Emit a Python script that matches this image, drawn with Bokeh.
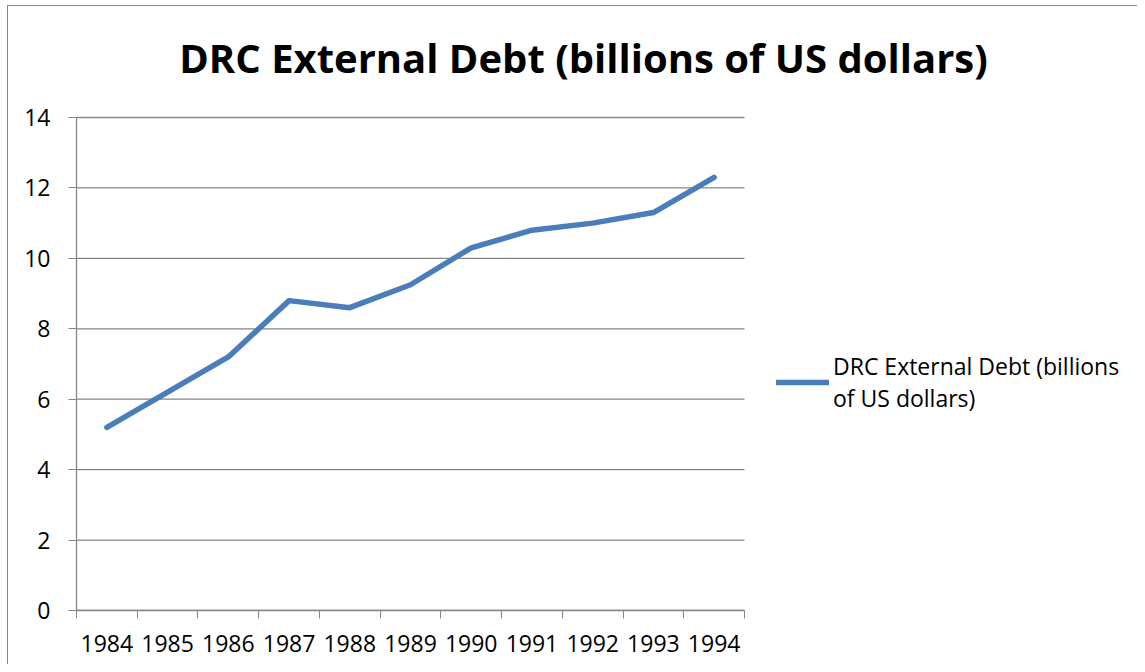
from bokeh.plotting import figure
from bokeh.models import (ColumnDataSource, FixedTicker, Label, Legend, LegendItem, Range1d)
from bokeh.embed import file_html
from bokeh.resources import INLINE

years = ["1984", "1985", "1986", "1987", "1988", "1989", "1990", "1991", "1992", "1993", "1994"]
debt = [5.2, 6.2, 7.2, 8.8, 8.6, 9.25, 10.3, 10.8, 11.0, 11.3, 12.3]
y_ticks = [0, 2, 4, 6, 8, 10, 12, 14]
title_text = "DRC External Debt (billions of US dollars)"
series_name = "DRC External Debt (billions\nof US dollars)"

xs = [i + 0.5 for i in range(len(years))]
src = ColumnDataSource(dict(x=xs, y=debt))

FONT = "Open Sans"
GRAY = "#868686"

# plot area: 668 x 493 px for 0..11 x 0..14; frame extended to hold title and legend
N = len(years)
Y_MAX = 14
FRAME_W = 1061
FRAME_H = 604
x_end = N * FRAME_W / 668
y_top = Y_MAX * FRAME_H / 493

p = figure(frame_width=FRAME_W, frame_height=FRAME_H, output_backend="svg", toolbar_location=None,
           x_range=Range1d(0, x_end), y_range=Range1d(0, y_top),
           min_border_left=68, min_border_right=0, min_border_top=0, min_border_bottom=54,
           title=None)
p.styles = {"border-left": "1px solid #868686", "border-top": "1px solid #868686",
            "margin-left": "7px", "margin-top": "5px"}
p.outline_line_color = None
p.background_fill_color = "white"

# horizontal gridlines limited to the category span
p.segment(x0=[0] * len(y_ticks), x1=[N] * len(y_ticks), y0=y_ticks, y1=y_ticks,
          line_color=GRAY, line_width=1.3, level="underlay")

r = p.line("x", "y", source=src, line_color="#4A7EBB", line_width=5.5,
           line_cap="round", line_join="round")

# x axis: boundary ticks, centred labels
xa = p.xaxis[0]
xa.bounds = (0, N)
xa.ticker = FixedTicker(ticks=xs, minor_ticks=list(range(N + 1)))
xa.major_label_overrides = {x: y for x, y in zip(xs, years)}
xa.major_tick_line_color = None
xa.minor_tick_line_color = GRAY
xa.minor_tick_out = 8
xa.minor_tick_in = 0
xa.axis_line_color = GRAY
xa.axis_line_width = 1.3
xa.major_label_text_font = FONT
xa.major_label_text_font_size = "23px"
xa.major_label_text_color = "black"
xa.major_label_standoff = 16

ya = p.yaxis[0]
ya.bounds = (0, Y_MAX)
ya.ticker = FixedTicker(ticks=y_ticks, minor_ticks=[])
ya.major_tick_out = 8
ya.major_tick_in = 0
ya.major_tick_line_color = GRAY
ya.axis_line_color = GRAY
ya.axis_line_width = 1.3
ya.minor_tick_line_color = None
ya.major_label_text_font = FONT
ya.major_label_text_font_size = "23px"
ya.major_label_text_color = "black"
ya.major_label_standoff = 18

p.xgrid.grid_line_color = None
p.ygrid.grid_line_color = None

title = Label(x=507, y=553, x_units="screen", y_units="screen", text=title_text,
              text_align="center", text_baseline="middle", text_font=FONT,
              text_font_style="bold", text_font_size="40px", text_color="black")
p.add_layout(title)

legend = Legend(items=[LegendItem(label=series_name, renderers=[r])],
                location=(700, 196), glyph_width=53, glyph_height=20,
                label_standoff=4, padding=0, margin=0, spacing=0,
                border_line_color=None, background_fill_alpha=0,
                label_text_font=FONT, label_text_font_size="23px",
                label_text_line_height=1.35, label_text_color="black")
p.add_layout(legend, "center")

open("out.html", "w").write(file_html(p, INLINE))
